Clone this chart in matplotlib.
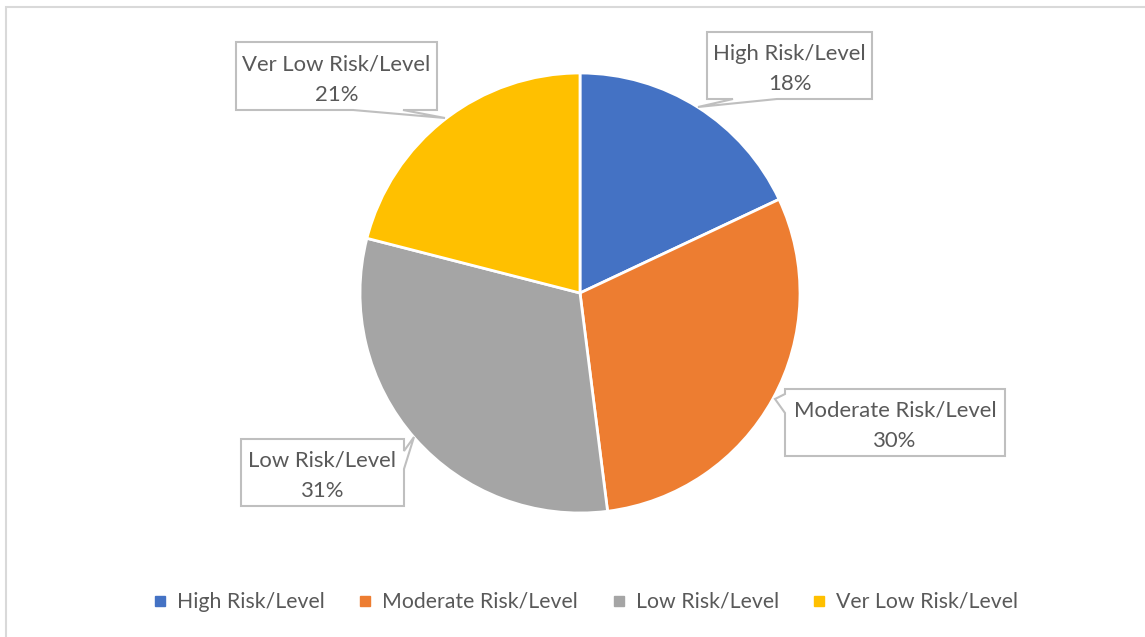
import matplotlib
matplotlib.use('Agg')
import matplotlib.pyplot as plt
from matplotlib.patches import Polygon, Rectangle
from matplotlib.lines import Line2D

# risk level shares (percent)
labels = ['High Risk/Level', 'Moderate Risk/Level', 'Low Risk/Level', 'Ver Low Risk/Level']
shares = [18, 30, 31, 21]
colors = ['#4472C4', '#ED7D31', '#A5A5A5', '#FFC000']

W, H = 1145, 637
TXT = '#595959'
plt.rcParams['font.family'] = ['Lato', 'DejaVu Sans']

fig = plt.figure(figsize=(W / 100, H / 100), dpi=100)
ax = fig.add_axes([0, 0, 1, 1])


def py(y):
    # pixel rows are counted from the top
    return H - y


ax.pie(shares, colors=colors, startangle=90, counterclock=False,
       center=(580, py(293)), radius=220,
       wedgeprops=dict(edgecolor='white', linewidth=2))
ax.set_xlim(0, W)
ax.set_ylim(0, H)
ax.set_aspect('equal')
ax.axis('off')

# chart area border (runs off the right and bottom)
ax.add_patch(Rectangle((6, -20), W + 40, py(7) + 20, fill=False,
                       edgecolor='#d9d9d9', linewidth=1.5))

# callout outlines: box (left, top, right, bottom) plus the pointer vertices
callouts = [
    ((707, 32, 872, 99), [(707, 32), (872, 32), (872, 99), (777, 99), (698, 107), (733, 99), (707, 99)]),
    ((785, 389, 1005, 456), [(785, 389), (1005, 389), (1005, 456), (785, 456), (785, 413), (775, 399), (785, 394)]),
    ((241, 439, 404, 506), [(241, 439), (404, 439), (404, 451), (414, 437), (404, 469), (404, 506), (241, 506)]),
    ((236, 42, 437, 110), [(236, 42), (437, 42), (437, 110), (403, 110), (445, 118), (353, 110), (236, 110)]),
]

for (box, verts), lab, val in zip(callouts, labels, shares):
    l, t, r, b = box
    ax.add_patch(Polygon([(x, py(y)) for x, y in verts], closed=True,
                         facecolor='white', edgecolor='#bfbfbf', linewidth=1.5,
                         zorder=3))
    ax.text((l + r) / 2, py((t + b) / 2 + 3.5), f'{lab}\n{val}%', ha='center',
            va='center', fontsize=15.9, color=TXT, linespacing=1.65, zorder=4)

handles = [Line2D([], [], linestyle='none', marker='s', markersize=7,
                  markerfacecolor=c, markeredgecolor=c) for c in colors]
fig.legend(handles, labels, loc='center', bbox_to_anchor=(586 / W, 1 - 602 / H),
           ncol=4, frameon=False, fontsize=15.3, labelcolor=TXT,
           handlelength=0.6, handletextpad=0.5, columnspacing=1.6)

fig.savefig('out.png', dpi=100, facecolor='white')
